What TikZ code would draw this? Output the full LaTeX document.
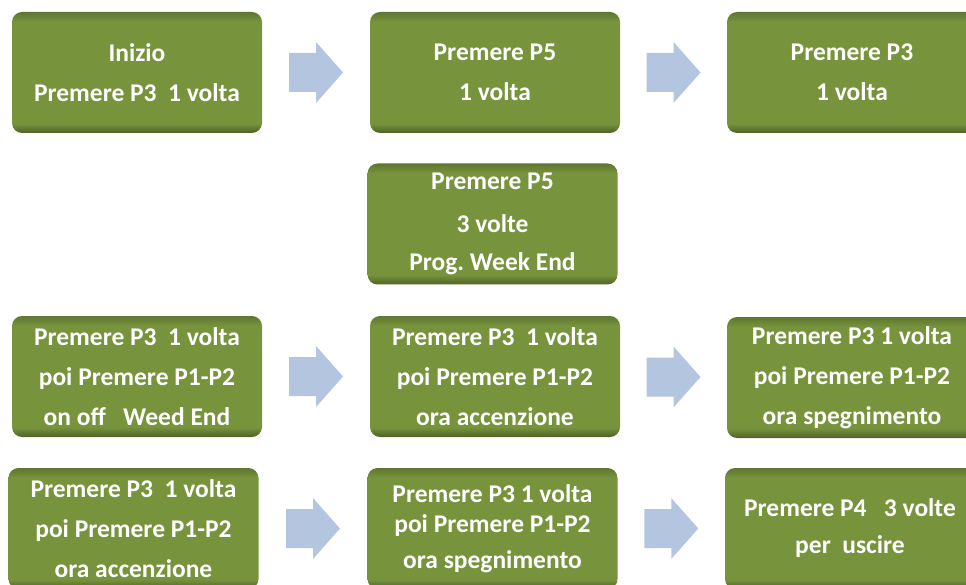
\documentclass[tikz,border=0pt]{standalone}
\usepackage{fontspec}
\setmainfont{Carlito}
\usetikzlibrary{calc}
\frenchspacing

\definecolor{stepgreen}{HTML}{77933C}
\definecolor{stepdark}{HTML}{4F6228}
\colorlet{steptop}{stepdark!60!stepgreen}
\definecolor{arrowblue}{HTML}{B4C5E0}
\pgfdeclareverticalshading{stepshade}{100bp}{color(0bp)=(stepdark); color(25bp)=(stepdark); color(29bp)=(stepgreen); color(71bp)=(stepgreen); color(75bp)=(steptop); color(100bp)=(steptop)}

\begin{document}
\begin{tikzpicture}[%
			x=1pt, y=-1pt,
			stepbox/.style={rectangle, rounded corners=10pt, shading=stepshade,
				minimum width=250pt, minimum height=121pt, inner sep=0pt,
				align=center, text=white, font=\fontsize{25.5}{40}\selectfont\bfseries},
			steparrow/.style={fill=arrowblue, draw=none}
			]
			\clip (0,0) rectangle (966,585);
			\useasboundingbox (0,0) rectangle (966,585);
			% first row
			\node[stepbox] (inizio) at (137,72.5) {Inizio\\ Premere P3~ 1 volta};
			\node[stepbox] (p5uno) at (495,72.5) {Premere P5\\ 1 volta};
			\node[stepbox] (p3uno) at (852,72.5) {Premere P3\\ 1 volta};
			% week end
			\node[stepbox] (weekend) at (492.5,224) {Premere P5\\[3pt] 3 volte\\[-2pt] Prog. Week End};
			% third row
			\node[stepbox] (onoff) at (137,376.5) {Premere P3~ 1 volta\\ poi Premere P1-P2\\ on off~~ Weed End};
			\node[stepbox] (acc1) at (495,376.5) {Premere P3~ 1 volta\\ poi Premere P1-P2\\ ora accenzione};
			\node[stepbox] (spe1) at (852,377.5) {Premere P3 1 volta\\ poi Premere P1-P2\\ ora spegnimento};
			% fourth row
			\node[stepbox] (acc2) at (133.5,528.5) {Premere P3~ 1 volta\\ poi Premere P1-P2\\ ora accenzione};
			\node[stepbox] (spe2) at (492.5,528.5) {Premere P3 1 volta\\[-10pt] poi Premere P1-P2\\[-4pt] ora spegnimento};
			\node[stepbox] (uscire) at (850,528.5) {Premere P4~~ 3 volte\\[-3pt] per~ uscire};
			% block arrows between the boxes
			\coordinate (f1) at ($(inizio)!0.5!(p5uno)$);
			\coordinate (f2) at ($(p5uno)!0.5!(p3uno)$);
			\coordinate (f3) at ($(onoff)!0.5!(acc1)$);
			\coordinate (f4) at ($(acc1)!0.5!(spe1)$);
			\coordinate (f5) at ($(acc2)!0.5!(spe2)$);
			\coordinate (f6) at ($(spe2)!0.5!(uscire)$);
			\foreach \f in {f1,f2,f3,f4,f5,f6}
				\fill[steparrow] (\f) ++(-27,-19.5) -- ++(27,0) -- ++(0,-11) -- ++(27,30.5)
					-- ++(-27,30.5) -- ++(0,-11) -- ++(-27,0) -- cycle;
		\end{tikzpicture}
\end{document}
